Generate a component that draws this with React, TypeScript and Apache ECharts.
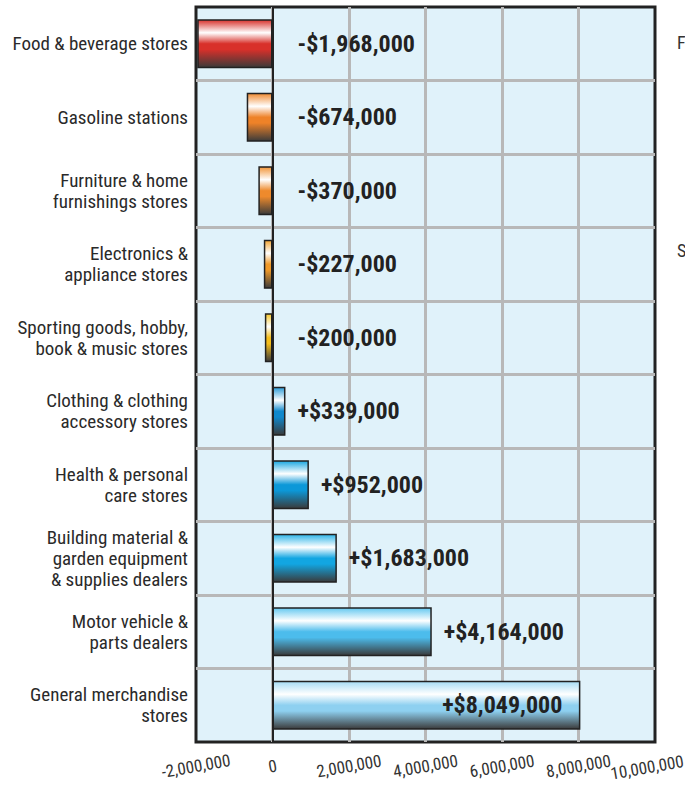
import React, { useEffect, useRef } from "react";
import * as echarts from "echarts";

const categories = [
  "Food & beverage stores",
  "Gasoline stations",
  "Furniture & home\nfurnishings stores",
  "Electronics &\nappliance stores",
  "Sporting goods, hobby,\nbook & music stores",
  "Clothing & clothing\naccessory stores",
  "Health & personal\ncare stores",
  "Building material &\ngarden equipment\n& supplies dealers",
  "Motor vehicle &\nparts dealers",
  "General merchandise\nstores",
];

const values = [-1968000, -674000, -370000, -227000, -200000, 339000, 952000, 1683000, 4164000, 8049000];

const xTicks = { min: -2000000, max: 10000000, interval: 2000000 };

const barColors = [
  ["#d8302a", "#d8302a"],
  ["#f08a30", "#ee8228"],
  ["#f29436", "#ee8a2c"],
  ["#f3a634", "#f09a28"],
  ["#f8c828", "#f5be1c"],
  ["#2a9ad6", "#1088cc"],
  ["#18a6e0", "#0c98d8"],
  ["#2cb4e8", "#12a6e2"],
  ["#64c8f0", "#4cbcec"],
  ["#a6dcf5", "#8ed0f0"],
];

const NARROW = "'Liberation Sans Narrow', 'Arial Narrow', 'Roboto Condensed', sans-serif";

function fmt(v: number) {
  const s = Math.abs(v).toLocaleString("en-US");
  return (v < 0 ? "-$" : "+$") + s;
}

export default function App() {
  const ref = useRef<HTMLDivElement>(null);
  useEffect(() => {
    if (!ref.current) return;
    const chart = echarts.init(ref.current, null, { renderer: "svg" });
    const maxIdx = values.indexOf(Math.max(...values));
    const data = values.map((v, i) => {
      const [c1, c2] = barColors[i];
      return {
        value: v,
        itemStyle: {
          color: new echarts.graphic.LinearGradient(0, 0, 0, 1, [
            { offset: 0, color: c1 },
            { offset: 0.27, color: "#ffffff" },
            { offset: 0.5, color: c2 },
            { offset: 0.62, color: c2 },
            { offset: 1, color: "#3a3a3a" },
          ]),
          borderColor: "#222",
          borderWidth: 1.5,
        },
        label:
          i === maxIdx
            ? { position: "insideRight", distance: 18 }
            : v < 0
            ? { position: "right", distance: 25 }
            : { position: "right", distance: 12 },
      };
    });
    const baseLabel = {
      rotate: 10,
      align: "center",
      verticalAlign: "middle",
      margin: 24,
      fontFamily: NARROW,
      fontSize: 17,
      color: "#333",
      hideOverlap: false,
    };
    chart.setOption({
      animation: false,
      grid: {
        left: 196,
        right: 30,
        top: 7,
        bottom: 45,
        show: true,
        backgroundColor: "#e0f2fa",
        borderColor: "#222",
        borderWidth: 3,
        containLabel: false,
        outerBoundsMode: "none",
      },
      xAxis: [
        {
          type: "value",
          position: "bottom",
          min: xTicks.min,
          max: xTicks.max,
          interval: xTicks.interval,
          axisLine: { show: false },
          axisTick: { show: false },
          splitLine: {
            show: true,
            showMinLine: false,
            showMaxLine: false,
            lineStyle: { color: "#b8b8b8", width: 3 },
          },
          axisLabel: {
            ...baseLabel,
            showMinLabel: true,
            showMaxLabel: false,
            formatter: (v: number) => v.toLocaleString("en-US"),
          },
        },
        {
          type: "value",
          position: "bottom",
          min: xTicks.min,
          max: xTicks.max,
          interval: xTicks.interval,
          axisLine: { show: false },
          axisTick: { show: false },
          splitLine: { show: false },
          axisLabel: {
            ...baseLabel,
            showMinLabel: false,
            showMaxLabel: true,
            formatter: (v: number) => (v === xTicks.max ? "{m|" + v.toLocaleString("en-US") + "}" : ""),
            rich: {
              m: { width: 90, align: "left", fontFamily: NARROW, fontSize: 17, color: "#333" },
            },
          },
        },
      ],
      yAxis: {
        type: "category",
        data: categories,
        inverse: true,
        axisLine: { show: false },
        axisTick: { show: false },
        splitLine: {
          show: true,
          showMinLine: false,
          showMaxLine: false,
          lineStyle: { color: "#b8b8b8", width: 3 },
        },
        axisLabel: {
          margin: 8,
          fontFamily: NARROW,
          fontSize: 19,
          fontWeight: "normal",
          lineHeight: 21,
          color: "#2a2a2a",
          align: "right",
        },
      },
      series: [
        {
          type: "bar",
          xAxisIndex: 0,
          data,
          barWidth: "67%",
          label: {
            show: true,
            fontFamily: NARROW,
            fontWeight: "bold",
            fontSize: 24,
            color: "#222",
            formatter: (p: any) => fmt(p.value),
          },
          markLine: {
            silent: true,
            symbol: "none",
            label: { show: false },
            lineStyle: { color: "#222", width: 2, type: "solid" },
            data: [{ xAxis: 0 }],
          },
        },
      ],
      graphic: [
        { type: "text", left: 677, top: 33, style: { text: "F", fontFamily: NARROW, fontSize: 18, fill: "#333" } },
        { type: "text", left: 677, top: 241, style: { text: "S", fontFamily: NARROW, fontSize: 18, fill: "#333" } },
      ],
    });
    return () => chart.dispose();
  }, []);
  return <div ref={ref} style={{ width: 685, height: 787, position: "absolute", left: 0, top: 0 }} />;
}
